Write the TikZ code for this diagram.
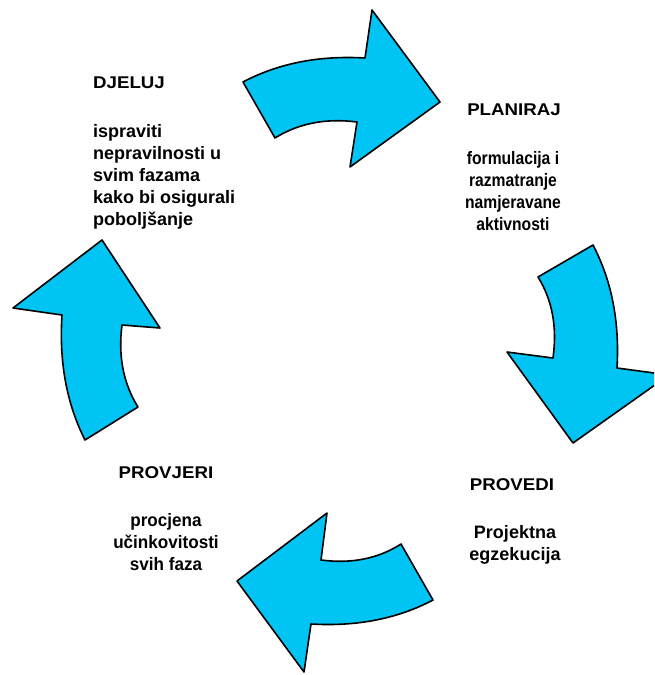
\documentclass[tikz,border=0pt]{standalone}
\usepackage{fontspec}
\usepackage{graphicx}
\setmainfont{Liberation Sans}
\definecolor{arrowblue}{RGB}{0,196,244}
\tikzset{
  cyclearrow/.style={fill=arrowblue, draw=black, line width=1.6pt, line join=round},
  headtext/.style={inner sep=0pt, font=\fontsize{17}{21}\selectfont\bfseries},
  bodytext/.style={inner sep=0pt, font=\fontsize{18}{22}\selectfont\bfseries}
}
\begin{document}
\begin{tikzpicture}[x=1pt,y=-1pt]
\clip (0,0) rectangle (654,675);
\fill[white] (0,0) rectangle (654,675);
% top arrow
\draw[cyclearrow] (243,82) .. controls (278.4,63.3) and (319,55.3) .. (365,58) -- (372,10) -- (440,102)
  -- (350,167) -- (357,122) .. controls (325.7,118) and (298.3,123.4) .. (275,138) -- cycle;
% right arrow
\draw[cyclearrow] (593,245) .. controls (611.7,280.7) and (619.7,321.7) .. (617,368) -- (669,375) -- (573,443)
  -- (507,352) -- (553,358) .. controls (557.3,327) and (552.3,300) .. (538,277) -- cycle;
% bottom arrow
\draw[cyclearrow] (433,600) .. controls (397.6,618.7) and (357,626.7) .. (311,624) -- (304,672) -- (237,581)
  -- (327,513) -- (321,560) .. controls (351.7,564) and (378.3,558.6) .. (401,544) -- cycle;
% left arrow
\draw[cyclearrow] (85,440) .. controls (66.6,403.6) and (59,362) .. (62,315) -- (13,308) -- (102,240)
  -- (160,328) -- (122,325) .. controls (118,356.3) and (123.4,383.7) .. (138,407) -- cycle;
% texts
\node[headtext, anchor=base west] (djeluj) at (93,88) {\scalebox{1.1}[1]{DJELUJ}};
\node[bodytext, anchor=base west] (djelujtxt) at (93,137)
  {\begin{tabular}[t]{@{}l@{}}ispraviti\\ nepravilnosti u\\ svim fazama\\ kako bi osigurali\\ poboljšanje\end{tabular}};
\node[headtext, anchor=base] (planiraj) at (514,115) {\scalebox{1.1}[1]{PLANIRAJ}};
\node[bodytext, anchor=base] (planirajtxt) at (513,164)
  {\scalebox{0.87}[1]{\begin{tabular}[t]{@{}c@{}}formulacija i\\ razmatranje\\ namjeravane\\ aktivnosti\end{tabular}}};
\node[headtext, anchor=base] (provjeri) at (166,478) {\scalebox{1.1}[1]{PROVJERI}};
\node[bodytext, anchor=base] (provjeritxt) at (166,526)
  {\scalebox{0.95}[1]{\begin{tabular}[t]{@{}c@{}}procjena\\ učinkovitosti\\ svih faza\end{tabular}}};
\node[headtext, anchor=base] (provedi) at (512,490) {\scalebox{1.1}[1]{PROVEDI}};
\node[bodytext, anchor=base] (proveditxt) at (515,538)
  {\begin{tabular}[t]{@{}c@{}}Projektna\\ egzekucija\end{tabular}};
\end{tikzpicture}
\end{document}
